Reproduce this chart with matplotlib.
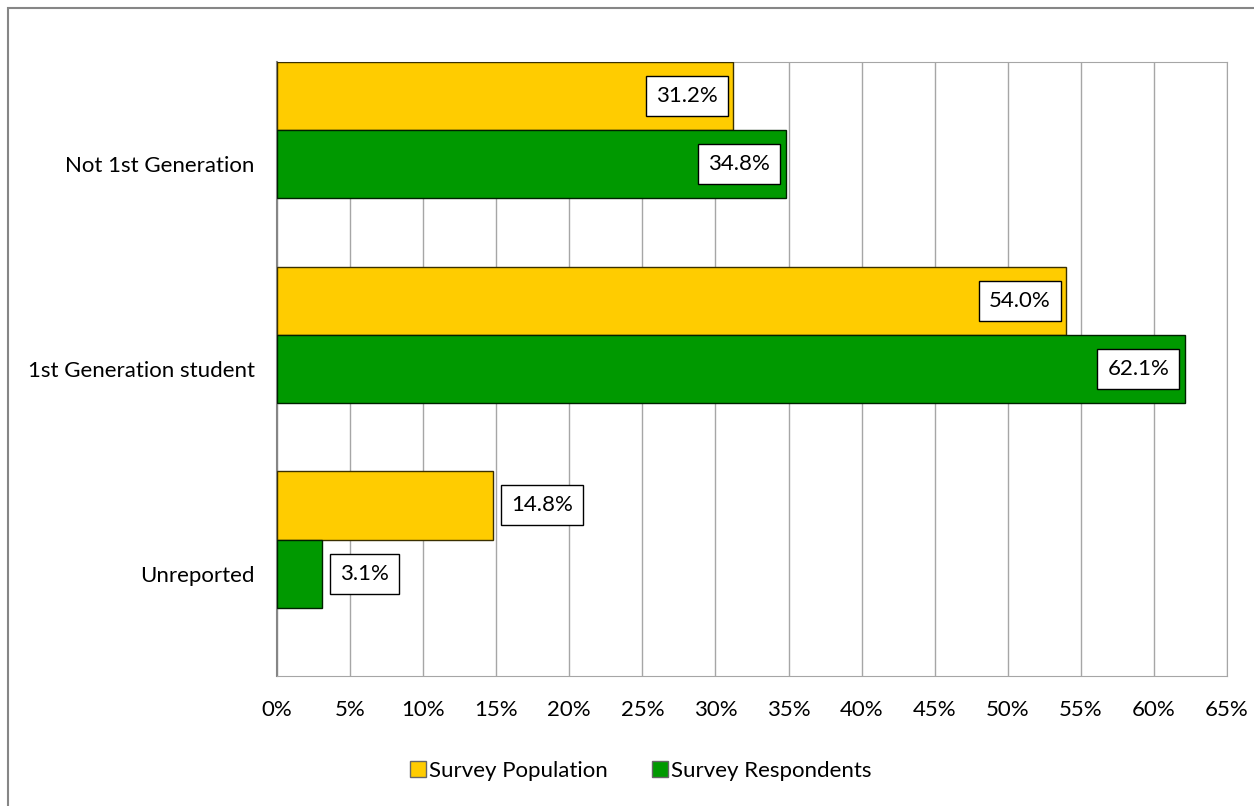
import matplotlib.pyplot as plt
import matplotlib.patches as mpatches
import numpy as np

plt.rcParams['font.family'] = ['Lato', 'DejaVu Sans']

categories = ['Not 1st Generation', '1st Generation student', 'Unreported']
population = [31.2, 54.0, 14.8]
respondents = [34.8, 62.1, 3.1]
xticks = list(range(0, 70, 5))

yellow = '#FFCC00'
green = '#009900'
fs = 16

fig = plt.figure(figsize=(12.54, 8.06), dpi=100)
ax = fig.add_axes([277 / 1254, 130 / 806, 950 / 1254, 614 / 806])

y = np.arange(len(categories))
h = 1 / 3
bars_pop = ax.barh(y - h, population, height=h, color=yellow, edgecolor='#3a3000',
                   linewidth=1, label='Survey Population', zorder=3)
bars_resp = ax.barh(y, respondents, height=h, color=green, edgecolor='#002000',
                    linewidth=1, label='Survey Respondents', zorder=3)

ax.set_xlim(0, 65)
ax.set_ylim(2.5, -0.5)
ax.set_xticks(xticks)
ax.set_xticklabels([f'{t}%' for t in xticks], fontsize=fs)
ax.set_yticks(y)
ax.set_yticklabels(categories, fontsize=fs)
ax.tick_params(axis='both', length=0)
ax.tick_params(axis='x', pad=17)
ax.tick_params(axis='y', pad=16)
ax.grid(axis='x', color='#a6a6a6', linewidth=1, zorder=0)

for side in ['top', 'right', 'bottom']:
    ax.spines[side].set_color('#a6a6a6')
ax.spines['left'].set_color('#868686')
ax.spines['left'].set_linewidth(1.5)

box = dict(boxstyle='square,pad=0.45', facecolor='white', edgecolor='black', linewidth=1)

# big bars get the label inside the end, small ones just outside
for bars, vals in [(bars_pop, population), (bars_resp, respondents)]:
    for bar, v in zip(bars, vals):
        yc = bar.get_y() + bar.get_height() / 2
        if v > 20:
            ax.annotate(f'{v:.1f}%', (v, yc), xytext=(-11, 0), textcoords='offset points',
                        ha='right', va='center', fontsize=fs, bbox=box, zorder=5)
        else:
            ax.annotate(f'{v:.1f}%', (v, yc), xytext=(13, 0), textcoords='offset points',
                        ha='left', va='center', fontsize=fs, bbox=box, zorder=5)

handles = [mpatches.Patch(facecolor=yellow, edgecolor='#666666', label='Survey Population'),
           mpatches.Patch(facecolor=green, edgecolor='#666666', label='Survey Respondents')]
fig.legend(handles=handles, loc='center', bbox_to_anchor=(641 / 1254, 1 - 771 / 806),
           ncol=2, frameon=False, fontsize=fs, handlelength=0.7, handleheight=0.7,
           handletextpad=0.15, columnspacing=2.0)

# outer chart border, only its top and left edges fall inside the image
fig.patches.append(mpatches.Rectangle((8, -200), 1400, 806 - 8 + 200, transform=None,
                                      fill=False, edgecolor='#868686', linewidth=1.5))

fig.savefig('out.png', dpi=100)
